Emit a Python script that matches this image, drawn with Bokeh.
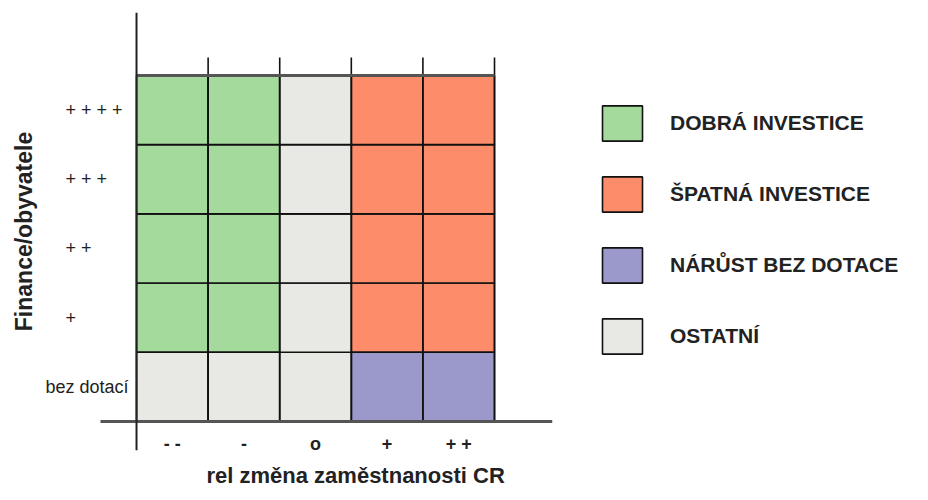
from bokeh.plotting import figure
from bokeh.models import (Range1d, FixedTicker, Span, Title, Legend, LegendItem,
                          LabelSet, ColumnDataSource)
from bokeh.core.properties import value
from bokeh.embed import file_html
from bokeh.resources import INLINE

# ---- data ----
col_labels = ["- -", "-", "o", "+", "+ +"]               # rel. změna zaměstnanosti CR
row_labels = ["bez dotací", "+", "+ +", "+ + +", "+ + + +"]  # Finance/obyvatele, bottom -> top
# cell classes, rows bottom -> top
row_bez = ["O", "O", "O", "P", "P"]
row_p1 = ["G", "G", "O", "R", "R"]
row_p2 = ["G", "G", "O", "R", "R"]
row_p3 = ["G", "G", "O", "R", "R"]
row_p4 = ["G", "G", "O", "R", "R"]
cell_rows = [row_bez, row_p1, row_p2, row_p3, row_p4]
class_order = ["G", "R", "P", "O"]
class_names = {"G": "DOBRÁ INVESTICE", "R": "ŠPATNÁ INVESTICE",
               "P": "NÁRŮST BEZ DOTACE", "O": "OSTATNÍ"}
class_colors = {"G": "#a4da9c", "R": "#fd8c6a", "P": "#9b98cc", "O": "#e8e8e4"}

n_cols = len(col_labels)
n_rows = len(row_labels)

p = figure(output_backend="svg", toolbar_location=None,
           frame_width=518, frame_height=438,
           min_border_left=34, min_border_right=360,
           min_border_top=12, min_border_bottom=46,
           x_range=Range1d(-1.425, n_cols + 0.81),
           y_range=Range1d(-0.42, n_rows + 0.91))
p.outline_line_color = None
p.grid.visible = False
p.background_fill_color = "white"
p.border_fill_color = "white"

items = []
for c in class_order:
    xs, ys = [], []
    for ri, row in enumerate(cell_rows):
        for ci, cls in enumerate(row):
            if cls == c:
                xs.append(ci + 0.5)
                ys.append(ri + 0.5)
    r = p.rect(x=xs, y=ys, width=1, height=1, fill_color=class_colors[c],
               line_color="#111111", line_width=1.6)
    items.append(LegendItem(label=class_names[c], renderers=[r]))

# column separators extending above the grid
bounds = list(range(1, n_cols + 1))
p.segment(x0=bounds, y0=[0] * len(bounds), x1=bounds, y1=[n_rows + 0.26] * len(bounds),
          line_color="#111111", line_width=1.6)
# top edge of grid
p.segment(x0=[0], y0=[n_rows], x1=[n_cols], y1=[n_rows], line_color="#555555", line_width=3)

# vertical axis line through x = 0
p.add_layout(Span(location=0, dimension="height", line_color="#222222", line_width=2))

# x axis drawn at y = 0
xa = p.xaxis[0]
xa.fixed_location = 0
xa.bounds = (-0.503, n_cols + 0.81)
xa.axis_line_color = "#555555"
xa.axis_line_width = 3
xa.ticker = FixedTicker(ticks=[i + 0.5 for i in range(n_cols)])
xa.major_label_overrides = {i + 0.5: lab for i, lab in enumerate(col_labels)}
xa.major_label_text_font = "Liberation Sans"
xa.major_label_text_color = "#222222"
xa.major_label_text_font_size = "18px"
xa.major_label_text_font_style = "bold"
xa.major_tick_out = 0
xa.major_tick_in = 0
xa.major_label_standoff = 13

# y axis: title only; row labels drawn as label sets next to the grid
ya = p.yaxis[0]
ya.ticker = FixedTicker(ticks=[])
ya.axis_line_color = None
ya.major_tick_out = 0
ya.major_tick_in = 0
ya.axis_label = "Finance/obyvatele"
ya.axis_label_text_font = "Liberation Sans"
ya.axis_label_text_font_size = "23px"
ya.axis_label_text_font_style = "bold"
ya.axis_label_text_color = "#222222"
ya.axis_label_standoff = -2

for ax in (xa, ya):
    ax.major_tick_line_color = None
    ax.minor_tick_line_color = None
    ax.minor_tick_out = 0

plus_src = ColumnDataSource(dict(x=[0] * (n_rows - 1),
                                 y=[i + 0.5 for i in range(1, n_rows)],
                                 text=row_labels[1:]))
bez_src = ColumnDataSource(dict(x=[0], y=[0.5], text=row_labels[:1]))
p.add_layout(LabelSet(x="x", y="y", text="text", source=plus_src, x_offset=-71,
                      text_align="left", text_baseline="middle",
                      text_font=value("Liberation Sans"), text_font_size=value("18px"),
                      text_color="#222222"))
p.add_layout(LabelSet(x="x", y="y", text="text", source=bez_src, x_offset=-8,
                      text_align="right", text_baseline="middle",
                      text_font=value("Liberation Sans"), text_font_size=value("18px"),
                      text_color="#222222"))

xt = Title(text="rel změna zaměstnanosti CR", align="left", offset=172, standoff=20,
           text_font="Liberation Sans", text_font_size="22px",
           text_font_style="bold", text_color="#222222")
p.add_layout(xt, "below")

legend = Legend(items=items, location=(45, 92), orientation="vertical",
                glyph_width=50, glyph_height=44, spacing=27, padding=0,
                label_standoff=23, label_text_font="Liberation Sans",
                label_text_font_size="21px", label_text_font_style="bold",
                label_text_color="#222222", border_line_color=None,
                background_fill_alpha=0, margin=0)
p.add_layout(legend, "right")

open("out.html", "w").write(file_html(p, INLINE))
